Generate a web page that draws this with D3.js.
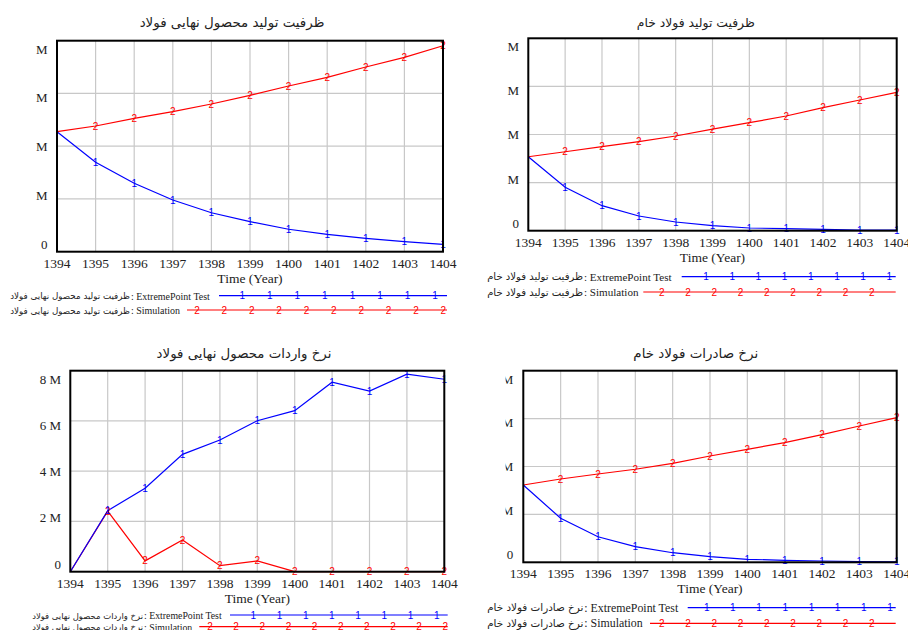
<!DOCTYPE html>
<html><head><meta charset="utf-8">
<script src="https://cdn.jsdelivr.net/npm/d3@7"></script>
<style>
html,body{margin:0;padding:0;background:#fff;}
svg{display:block;}
</style></head>
<body>
<svg id="c" width="908" height="630"></svg>
<script>
// ---------- DATA ----------
const years = [1394,1395,1396,1397,1398,1399,1400,1401,1402,1403,1404];

// Panel 1: ظرفیت تولید محصول نهایی فولاد (axis labels only show "M")
const finalCapExtreme = [2.275,1.695,1.297,0.98,0.739,0.569,0.425,0.33,0.254,0.19,0.14];
const finalCapSim     = [2.275,2.383,2.529,2.654,2.8,2.965,3.141,3.306,3.501,3.685,3.905];

// Panel 2: ظرفیت تولید فولاد خام
const rawCapExtreme = [1.538,0.902,0.52,0.306,0.181,0.104,0.056,0.042,0.029,0.015,0.01];
const rawCapSim     = [1.538,1.642,1.746,1.85,1.969,2.11,2.245,2.385,2.557,2.717,2.877];

// Panel 3: نرخ واردات محصول نهایی فولاد (millions)
const importExtreme = [0,2.43,3.32,4.67,5.24,6.01,6.41,7.54,7.19,7.86,7.66];
const importSim     = [0,2.41,0.43,1.26,0.24,0.43,0,0,0,0,0];

// Panel 4: نرخ صادرات فولاد خام
const exportExtreme = [1.614,0.919,0.534,0.326,0.2,0.117,0.063,0.042,0.027,0.015,0.01];
const exportSim     = [1.614,1.739,1.843,1.942,2.067,2.219,2.359,2.497,2.664,2.846,3.019];

const titles = ["ظرفیت تولید محصول نهایی فولاد","ظرفیت تولید فولاد خام","نرخ واردات محصول نهایی فولاد","نرخ صادرات فولاد خام"];
const runNames = ["ExtremePoint Test","Simulation"];
const yTickValuesM = [0,1,2,3,4];
const yTickLabelsM = ["0","M","M","M","M"];
const yTickValuesImport = [0,2,4,6,8];
const yTickLabelsImport = ["0","2 M","4 M","6 M","8 M"];
const xAxisTitle = "Time (Year)";

// ---------- LAYOUT ----------
const panels = [
  {title:titles[0], ext:finalCapExtreme, sim:finalCapSim, yMax:4, tv:yTickValuesM, tl:yTickLabelsM,
   x0:57, x1:443, y0:40.7, y1:251.7, tx:232, ty:27, tw:185, lx:47.5, clipX:null,
   rows:[295.7,310], legStart:10, engStart:131, extEnd:210, bl:[219,447], rl:[187,447], bm:[242.3,435,8], rm:[197,443.3,10]},
  {title:titles[1], ext:rawCapExtreme, sim:rawCapSim, yMax:4, tv:yTickValuesM, tl:yTickLabelsM,
   x0:528.3, x1:896.7, y0:38.3, y1:230.7, tx:695.8, ty:27, tw:118, lx:519, clipX:null,
   rows:[276.7,292], legStart:487, engStart:584, extEnd:671.7, bl:[681.7,895.7], rl:[643.3,895.7], bm:[706,889.3,8], rm:[661.7,871.7,9]},
  {title:titles[2], ext:importExtreme, sim:importSim, yMax:8, tv:yTickValuesImport, tl:yTickLabelsImport,
   x0:70.3, x1:444.3, y0:370.7, y1:571.7, tx:244, ty:358, tw:175, lx:61, clipX:null,
   rows:[615,626.7], legStart:32, engStart:144, extEnd:221.7, bl:[230,447.7], rl:[199.3,447.7], bm:[253.3,436.7,8], rm:[210,445.3,10]},
  {title:titles[3], ext:exportExtreme, sim:exportSim, yMax:4, tv:yTickValuesM, tl:yTickLabelsM,
   x0:523.3, x1:896.7, y0:370.7, y1:562.3, tx:695.8, ty:358, tw:125, lx:513.3, clipX:505.6,
   rows:[607.7,623.3], legStart:487, engStart:584.3, extEnd:678.3, bl:[687.7,895.7], rl:[650,895.7], bm:[706.7,890,8], rm:[661.7,871.7,9]}
];

const SERIF = "'Liberation Serif','Times New Roman',serif";
const SANS = "'DejaVu Sans','Noto Sans',sans-serif";
const MARK = "'Liberation Sans',Arial,sans-serif";
const BLUE = "#0000ff", RED = "#ff0000", GRID = "#c8c8c8", INK = "#222";

const svg = d3.select("#c");
const defs = svg.append("defs");

function fitFont(sel, base, target) {
  sel.style("font-size", base + "px");
  const w = sel.node().getComputedTextLength();
  const fs = base * target / w;
  sel.style("font-size", fs + "px");
  return fs;
}

panels.forEach((p, i) => {
  const g = svg.append("g");
  const x = d3.scaleLinear().domain([years[0], years[years.length-1]]).range([p.x0, p.x1]);
  const y = d3.scaleLinear().domain([0, p.yMax]).range([p.y1, p.y0]);
  const yl = d3.scaleLinear().domain([0, p.yMax]).range([p.y1 - 7.5, p.y0 + 8.3]);

  // title
  const tt = g.append("text").attr("x", p.tx).attr("y", p.ty).attr("text-anchor","middle")
    .style("font-family", SANS).attr("fill", INK).text(p.title);
  fitFont(tt, 14, p.tw);

  // grid
  g.append("g").selectAll("line").data(years.slice(1,-1)).join("line")
    .attr("x1", d=>x(d)).attr("x2", d=>x(d)).attr("y1", p.y0).attr("y2", p.y1)
    .attr("stroke", GRID).attr("stroke-width",1.2);
  g.append("g").selectAll("line").data(p.tv.slice(1,-1)).join("line")
    .attr("x1", p.x0).attr("x2", p.x1).attr("y1", d=>y(d)).attr("y2", d=>y(d))
    .attr("stroke", GRID).attr("stroke-width",1.2);

  // y labels
  let ylg = g.append("g");
  if (p.clipX !== null) {
    const id = "clip"+i;
    defs.append("clipPath").attr("id", id).append("rect")
      .attr("x", p.clipX).attr("y", p.y0-20).attr("width", 100).attr("height", p.y1-p.y0+40);
    ylg.attr("clip-path", `url(#${id})`);
  }
  ylg.selectAll("text").data(p.tv).join("text")
    .attr("x", p.lx).attr("y", d=>yl(d)+4.5).attr("text-anchor","end")
    .style("font-family", SERIF).style("font-size","13px").attr("fill", INK)
    .text((d,k)=>p.tl[k]);

  // x labels
  g.append("g").selectAll("text").data(years).join("text")
    .attr("x", d=>x(d)).attr("y", p.y1+15.8).attr("text-anchor","middle")
    .style("font-family", SERIF).style("font-size","13.5px").attr("fill", INK)
    .text(d=>d);
  g.append("text").attr("x", (p.x0+p.x1)/2).attr("y", p.y1+30.8).attr("text-anchor","middle")
    .style("font-family", SERIF).style("font-size","13.5px").attr("fill", INK).text(xAxisTitle);

  // lines
  const line = d3.line().x((d,k)=>x(years[k])).y(d=>y(d));
  g.append("path").datum(p.sim).attr("d", line).attr("fill","none").attr("stroke", RED).attr("stroke-width",1.2);
  g.append("path").datum(p.ext).attr("d", line).attr("fill","none").attr("stroke", BLUE).attr("stroke-width",1.2);

  // markers on data points
  g.append("g").selectAll("text").data(p.sim.slice(1)).join("text")
    .attr("x", (d,k)=>x(years[k+1])).attr("y", d=>y(d)).attr("dy","0.36em").attr("text-anchor","middle")
    .style("font-family", MARK).style("font-size","10px").attr("fill", RED).text("2");
  g.append("g").selectAll("text").data(p.ext.slice(1)).join("text")
    .attr("x", (d,k)=>x(years[k+1])).attr("y", d=>y(d)).attr("dy","0.36em").attr("text-anchor","middle")
    .style("font-family", MARK).style("font-size","10px").attr("fill", BLUE).text("1");

  // border
  g.append("rect").attr("x", p.x0).attr("y", p.y0).attr("width", p.x1-p.x0).attr("height", p.y1-p.y0)
    .attr("fill","none").attr("stroke","#000").attr("stroke-width",2);

  // legend
  const legendRows = [
    {run:runNames[0], color:BLUE, l:p.bl, m:p.bm, ch:"1"},
    {run:runNames[1], color:RED, l:p.rl, m:p.rm, ch:"2"}
  ];
  let engFs = null, perFs = null;
  legendRows.forEach((r, k) => {
    const cy = p.rows[k];
    const t = g.append("text").attr("x", p.engStart).attr("y", cy+3.8).attr("text-anchor","start")
      .style("font-family", SERIF).attr("fill", INK).text(": " + r.run);
    if (engFs === null) engFs = fitFont(t, 11, p.extEnd - p.engStart);
    else t.style("font-size", engFs + "px");
    const pt = g.append("text").attr("x", p.engStart - 1).attr("y", cy+3.6).attr("text-anchor","end")
      .style("font-family", SANS).attr("fill", INK).text(p.title);
    if (perFs === null) perFs = fitFont(pt, 9, p.engStart - 1 - p.legStart);
    else pt.style("font-size", perFs + "px");
    g.append("line").attr("x1", r.l[0]).attr("x2", r.l[1]).attr("y1", cy).attr("y2", cy)
      .attr("stroke", r.color).attr("stroke-width",1.2);
    const ms = d3.range(r.m[2]).map(j => r.m[0] + j*(r.m[1]-r.m[0])/(r.m[2]-1));
    g.append("g").selectAll("text").data(ms).join("text")
      .attr("x", d=>d).attr("y", cy).attr("dy","0.36em").attr("text-anchor","middle")
      .style("font-family", MARK).style("font-size","10px").attr("fill", r.color).text(r.ch);
  });
});
</script>
</body></html>
